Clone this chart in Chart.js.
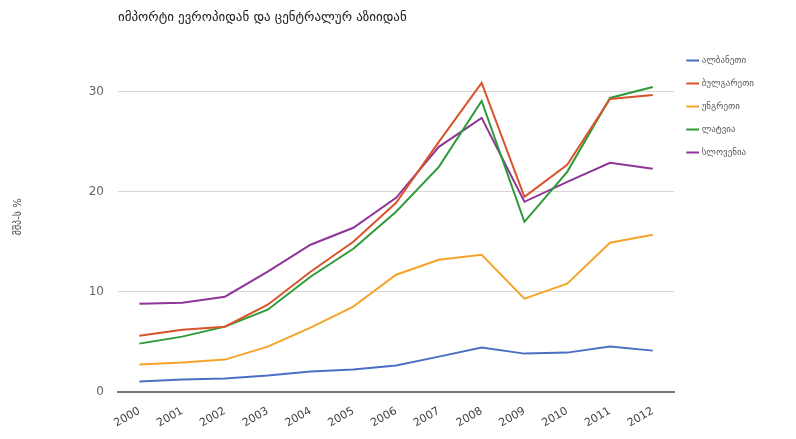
<!DOCTYPE html>
<html>
<head>
<meta charset="utf-8">
<script src="https://cdn.jsdelivr.net/npm/chart.js@4"></script>
<style>
  html, body { margin: 0; padding: 0; background: #fff; }
  #wrap { width: 796px; height: 439px; }
</style>
</head>
<body>
<div id="wrap"><canvas id="importChart"></canvas></div>
<script>
const title = "იმპორტი ევროპიდან და ცენტრალურ აზიიდან";
const yTitle = "მშპ-ს %";
const years = ["2000", "2001", "2002", "2003", "2004", "2005", "2006", "2007", "2008", "2009", "2010", "2011", "2012"];
const seriesNames = ["ალბანეთი", "ბულგარეთი", "უნგრეთი", "ლატვია", "სლოვენია"];

const albania  = [1.0, 1.2, 1.3, 1.6, 2.0, 2.2, 2.6, 3.5, 4.4, 3.8, 3.9, 4.5, 4.1];
const bulgaria = [5.6, 6.2, 6.5, 8.7, 12.0, 15.0, 18.9, 25.0, 30.9, 19.5, 22.7, 29.3, 29.7];
const hungary  = [2.7, 2.9, 3.2, 4.5, 6.4, 8.5, 11.7, 13.2, 13.7, 9.3, 10.8, 14.9, 15.7];
const latvia   = [4.8, 5.5, 6.5, 8.2, 11.5, 14.3, 18.0, 22.5, 29.1, 17.0, 22.0, 29.4, 30.5];
const slovenia = [8.8, 8.9, 9.5, 12.0, 14.7, 16.4, 19.4, 24.5, 27.4, 19.0, 21.0, 22.9, 22.3];

const seriesValues = [albania, bulgaria, hungary, latvia, slovenia];
const colors = ["#4a6fc4", "#d9532b", "#f5a42a", "#2f9a38", "#8e3598"];

const FONT = "'DejaVu Sans', 'Noto Sans', sans-serif";

// title sits over the plot's left edge, not the canvas edge
const titlePlugin = {
  id: "leftTitle",
  afterDraw(chart) {
    const { ctx, chartArea } = chart;
    ctx.save();
    ctx.font = "13px " + FONT;
    ctx.fillStyle = "#222";
    ctx.textBaseline = "middle";
    ctx.textAlign = "left";
    ctx.fillText(title, chartArea.left, 18);
    ctx.restore();
  },
};

new Chart(document.getElementById("importChart"), {
  type: "line",
  data: {
    labels: years,
    datasets: seriesNames.map((name, i) => ({
      label: name,
      data: seriesValues[i],
      borderColor: colors[i],
      backgroundColor: colors[i],
      borderWidth: 2,
      pointRadius: 0,
      tension: 0,
    })),
  },
  options: {
    responsive: true,
    maintainAspectRatio: false,
    animation: false,
    layout: { padding: { top: 42, right: 32, bottom: 4, left: 0 } },
    plugins: {
      legend: {
        position: "right",
        align: "start",
        labels: {
          usePointStyle: true,
          pointStyle: "line",
          boxWidth: 26,
          padding: 14,
          color: "#555",
          font: { family: FONT, size: 9 },
        },
      },
      tooltip: { enabled: false },
    },
    scales: {
      x: {
        offset: true,
        grid: { display: false },
        border: { display: true, color: "#777", width: 2 },
        ticks: {
          color: "#444",
          font: { family: FONT, size: 11 },
          minRotation: 30,
          maxRotation: 30,
          padding: 5,
        },
      },
      y: {
        min: 0,
        max: 35,
        afterBuildTicks: (axis) => {
          axis.ticks = axis.ticks.filter((t) => t.value % 10 === 0);
        },
        afterFit: (scale) => {
          scale.width = 118;
        },
        grid: { color: "#d6d6d6", drawTicks: false },
        border: { display: false },
        ticks: {
          stepSize: 10,
          padding: 14,
          color: "#666",
          font: { family: FONT, size: 12 },
        },
        title: {
          display: true,
          text: yTitle,
          color: "#444",
          font: { family: FONT, size: 10 },
          padding: { top: 12, bottom: 0 },
        },
      },
    },
  },
  plugins: [titlePlugin],
});
</script>
</body>
</html>
